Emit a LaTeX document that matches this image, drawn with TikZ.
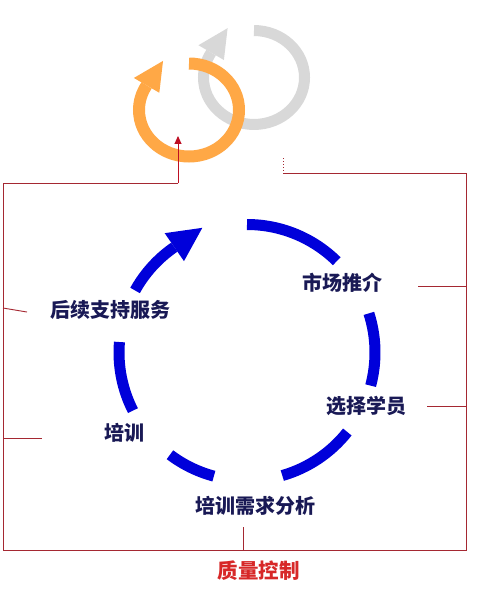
\documentclass[tikz,border=0pt]{standalone}
\usepackage{fontspec}
\newfontfamily\cjk{Noto Sans CJK SC}
\usetikzlibrary{calc,arrows.meta}
\definecolor{myblue}{RGB}{0,0,218}
\definecolor{navytxt}{RGB}{25,25,85}
\definecolor{ringorange}{RGB}{255,168,70}
\definecolor{ringgray}{RGB}{216,216,216}
\definecolor{linered}{RGB}{165,40,50}
\definecolor{arrowred}{RGB}{190,15,35}
\definecolor{qred}{RGB}{215,40,40}
\begin{document}
\begin{tikzpicture}[x=1pt,y=1pt,
  bluearc/.style={draw=myblue,line width=11pt},
  grayarc/.style={draw=ringgray,line width=11pt},
  orangearc/.style={draw=ringorange,line width=12pt},
  redline/.style={draw=linered,line width=0.9pt},
  steplabel/.style={font=\cjk\bfseries\fontsize{20}{20}\selectfont,text=navytxt,inner sep=0pt},
  qlabel/.style={font=\cjk\bfseries\fontsize{20.5}{20.5}\selectfont,text=qred,inner sep=0pt}]
\useasboundingbox (0,0) rectangle (476,-596);
\fill[white] (0,0) rectangle (476,-596);

% gray ring (behind)
\begin{scope}[shift={(254,-77.5)},yscale=0.93]
  \draw[grayarc] (90:50.5) arc[start angle=90,end angle=-212,radius=50.5];
  \fill[ringgray] (148:65.5) -- (148:35.5) -- ($(148:50.5)+(58:31)$) -- cycle;
\end{scope}
% orange ring
\begin{scope}[shift={(189,-110)},yscale=0.93]
  \draw[orangearc] (90:50) arc[start angle=90,end angle=-212,radius=50];
  \fill[ringorange] (148:65) -- (148:35) -- ($(148:50)+(58:31)$) -- cycle;
\end{scope}

% blue cycle
\coordinate (C) at (247,-352.5);
\foreach \a/\b in {90/45.5, 17.8/-15, -38.4/-74, -105/-127, 175.3/207, 151/124.6}
  \draw[bluearc] ([shift={(\a:128)}]C) arc[start angle=\a,end angle=\b,radius=128];
\fill[myblue] ([shift={(124.6:145)}]C) -- ([shift={(124.6:111)}]C)
  -- ($(C)+(124.6:128)+(34.6:34)$) -- cycle;

% labels
\node[steplabel] (sc) at (342.5,-282.5) {市场推介};
\node[steplabel] (xz) at (366.5,-406) {选择学员};
\node[steplabel] (xq) at (255.5,-506) {培训需求分析};
\node[steplabel] (px) at (124,-432.5) {培训};
\node[steplabel] (hx) at (110,-310) {后续支持服务};
\node[qlabel] (zl) at (258.5,-571) {质量控制};

% quality control frame
\coordinate (tl) at (3,-183);
\coordinate (tm) at (178,-183);
\coordinate (rt) at (178,-136);
\coordinate (dtop) at (283,-157);
\coordinate (dbot) at (283,-173.5);
\coordinate (tr) at (466,-173.5);
\coordinate (br) at (466,-550);
\coordinate (bl) at (3,-550);
\coordinate (bm) at (243,-550);
\draw[redline] (tm) -- (tl) -- (bl) -- (br) -- (tr) -- (dbot);
\draw[linered,line width=0.9pt,dotted] (dbot) -- (dtop);
\draw[arrowred,line width=0.9pt,-{Triangle[length=8pt,width=7pt]}] (tm) -- (rt);

% ticks
\draw[redline] (418,-286) -- (466,-286);
\draw[redline] (427,-406) -- (466,-406);
\draw[redline] (3,-308) -- (27,-312);
\draw[redline] (3,-438) -- (42,-438);
\draw[redline] (243,-527) -- (bm);
\end{tikzpicture}
\end{document}
